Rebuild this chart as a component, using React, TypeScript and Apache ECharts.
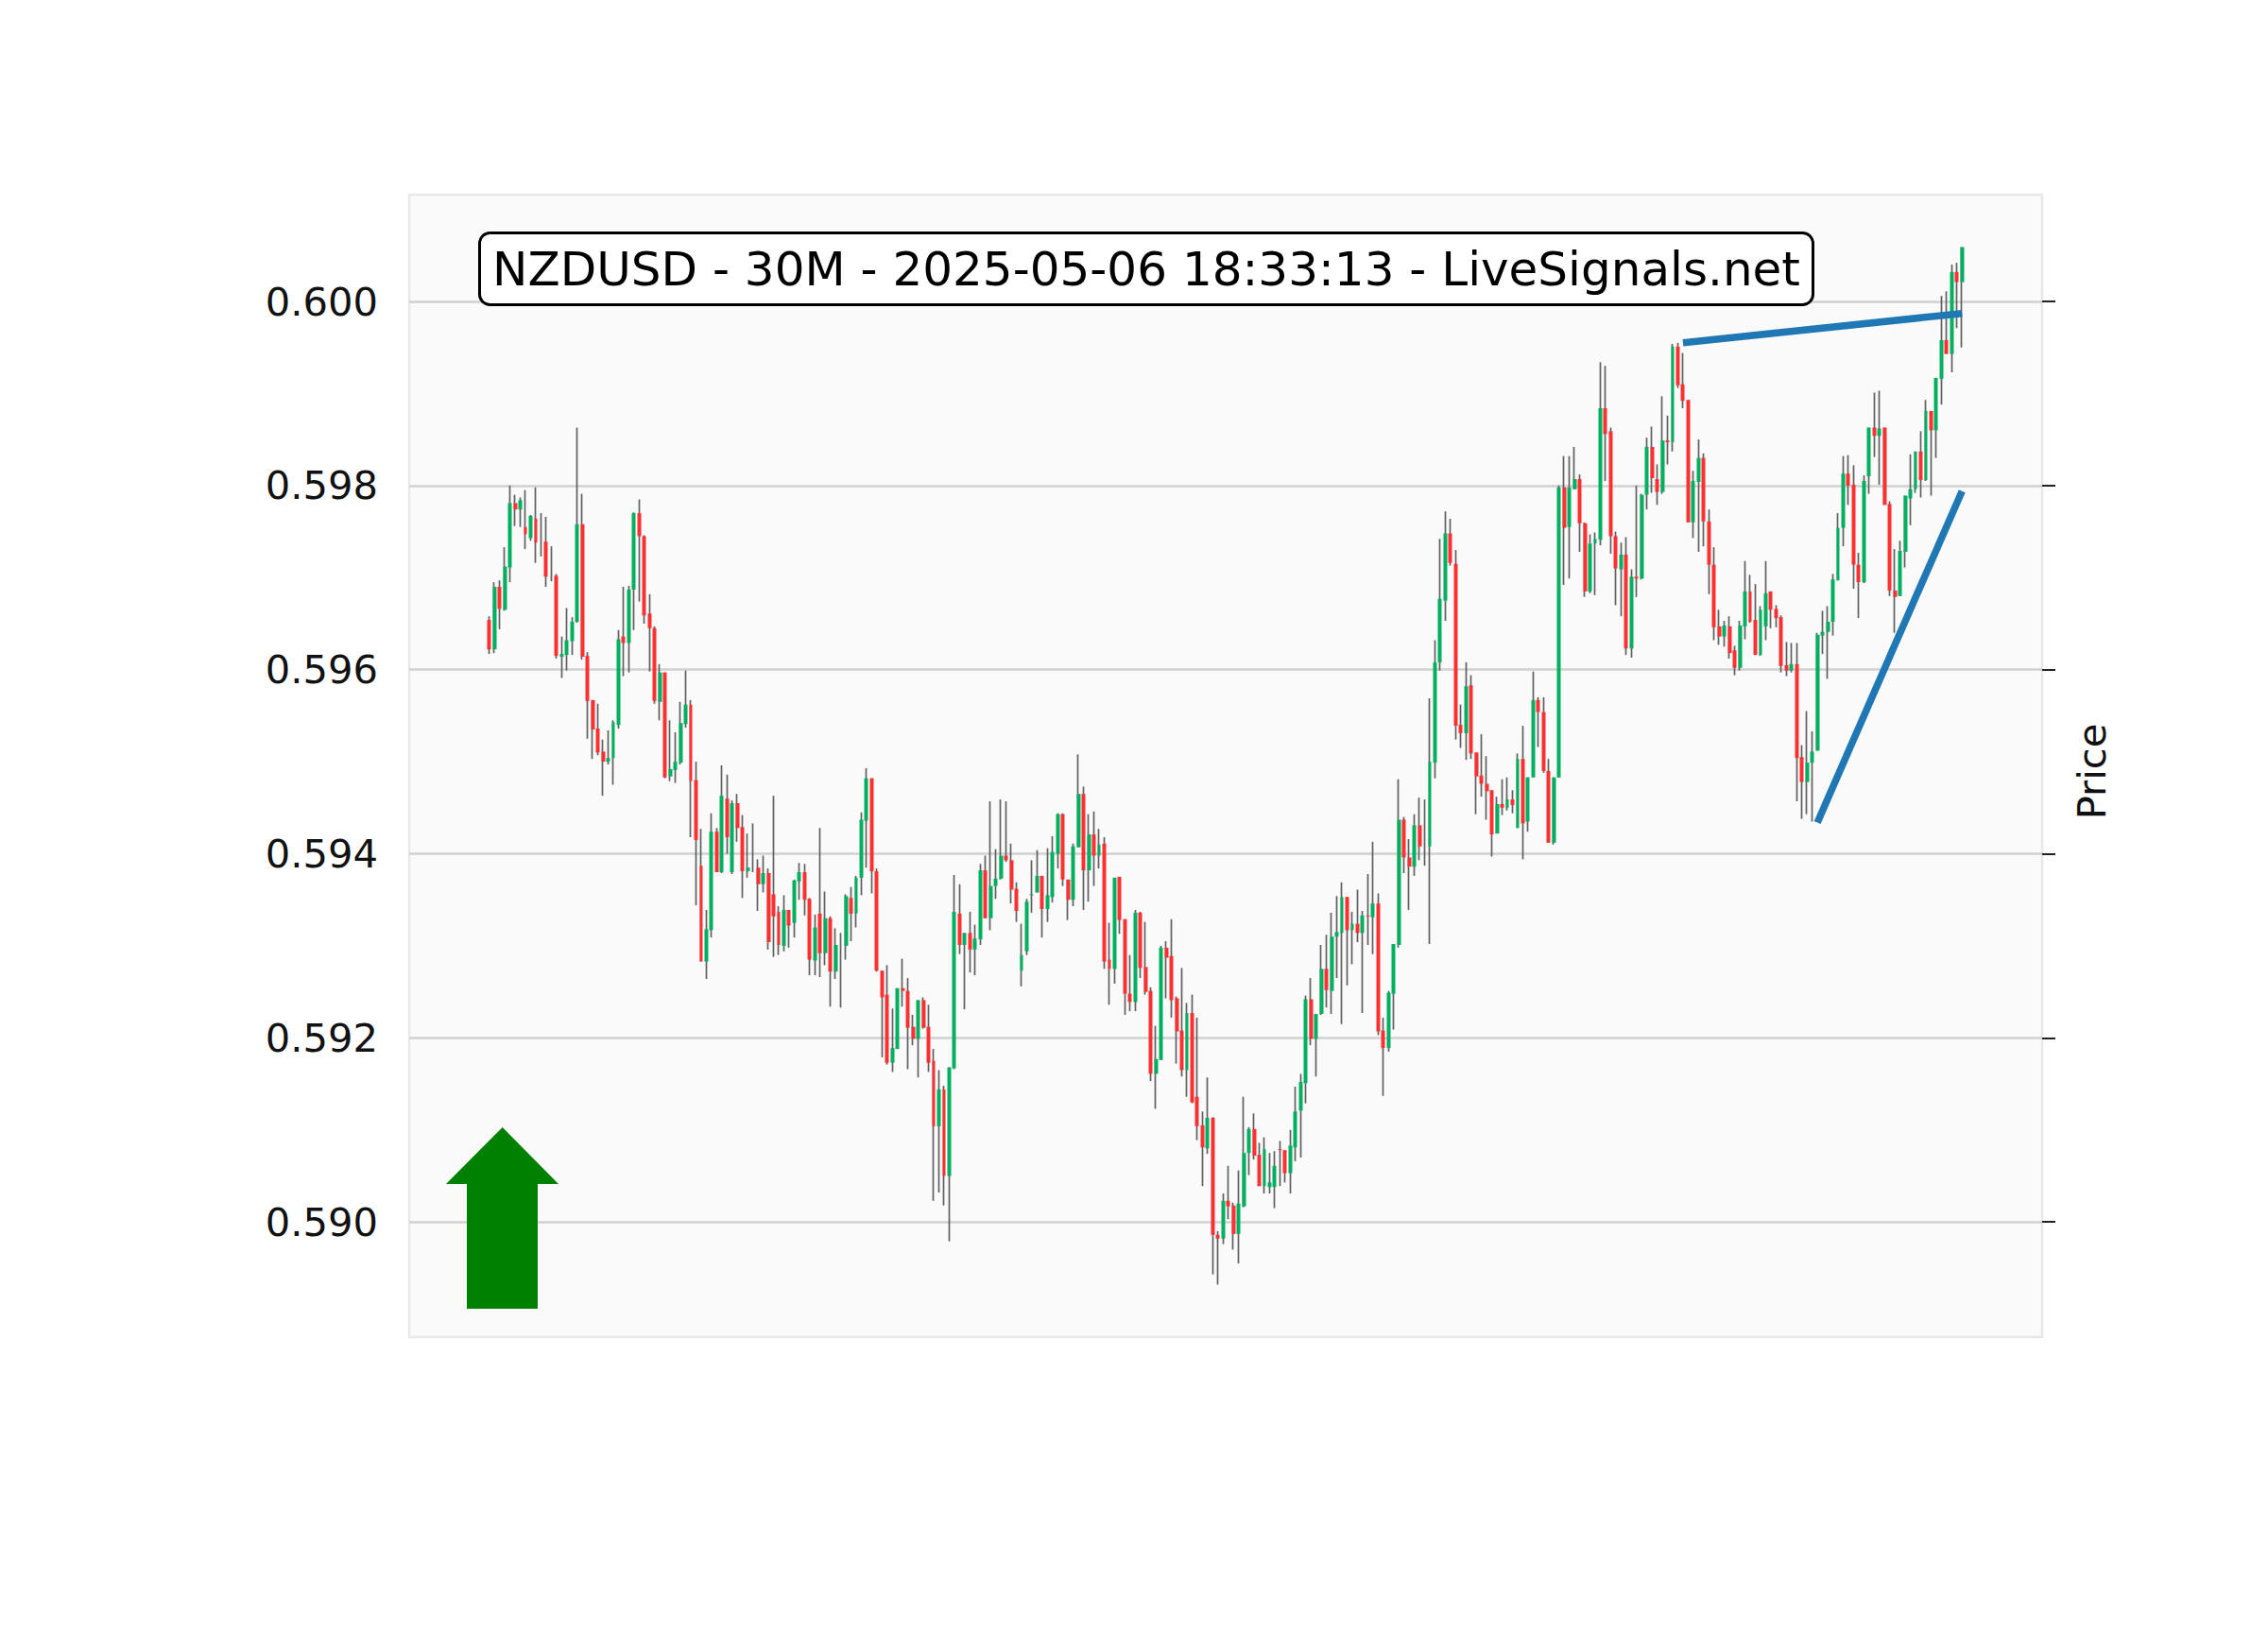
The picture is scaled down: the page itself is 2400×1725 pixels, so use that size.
import React, { useEffect, useRef } from "react";
import * as echarts from "echarts";

const chartTitle = "NZDUSD - 30M - 2025-05-06 18:33:13 - LiveSignals.net";
const yAxisName = "Price";
const yTicks = [0.59, 0.592, 0.594, 0.596, 0.598, 0.6];
const yMin = 0.58875;
const yMax = 0.60116;

const opens = [
  0.59654,0.59622,0.59690,0.59665,0.59711,0.59781,0.59774,0.59755,0.59743,0.59764,
  0.59742,0.59739,0.59703,0.59702,0.59614,0.59616,0.59631,0.59652,0.59758,0.59615,
  0.59567,0.59536,0.59511,0.59500,0.59504,0.59540,0.59636,0.59629,0.59687,0.59770,
  0.59745,0.59661,0.59645,0.59565,0.59597,0.59484,0.59491,0.59499,0.59541,0.59562,
  0.59480,0.59387,0.59283,0.59317,0.59424,0.59380,0.59460,0.59380,0.59455,0.59429,
  0.59381,0.59384,0.59385,0.59367,0.59379,0.59356,0.59337,0.59300,0.59339,0.59325,
  0.59370,0.59380,0.59351,0.59284,0.59335,0.59292,0.59330,0.59272,0.59300,0.59300,
  0.59352,0.59335,0.59374,0.59436,0.59482,0.59381,0.59273,0.59247,0.59173,0.59188,
  0.59254,0.59251,0.59212,0.59199,0.59241,0.59212,0.59175,0.59104,0.59144,0.59050,
  0.59167,0.59335,0.59301,0.59314,0.59296,0.59307,0.59382,0.59330,0.59365,0.59373,
  0.59398,0.59393,0.59362,0.59273,0.59294,0.59355,0.59358,0.59376,0.59340,0.59353,
  0.59400,0.59443,0.59372,0.59350,0.59407,0.59465,0.59382,0.59421,0.59398,0.59411,
  0.59285,0.59275,0.59375,0.59329,0.59248,0.59239,0.59336,0.59277,0.59251,0.59161,
  0.59176,0.59298,0.59289,0.59243,0.59208,0.59165,0.59227,0.59136,0.59105,0.59080,
  0.59113,0.58986,0.58982,0.59023,0.59018,0.58987,0.59017,0.59075,0.59101,0.59073,
  0.59039,0.59038,0.59038,0.59079,0.59078,0.59053,0.59081,0.59121,0.59151,0.59242,
  0.59199,0.59226,0.59275,0.59251,0.59310,0.59314,0.59353,0.59317,0.59324,0.59314,
  0.59333,0.59331,0.59346,0.59208,0.59189,0.59248,0.59301,0.59437,0.59396,0.59386,
  0.59431,0.59412,0.59408,0.59499,0.59608,0.59675,0.59748,0.59715,0.59540,0.59531,
  0.59583,0.59510,0.59485,0.59476,0.59469,0.59422,0.59454,0.59450,0.59459,0.59428,
  0.59503,0.59435,0.59483,0.59567,0.59554,0.59490,0.59412,0.59483,0.59798,0.59755,
  0.59796,0.59807,0.59759,0.59685,0.59737,0.59741,0.59884,0.59859,0.59745,0.59709,
  0.59725,0.59623,0.59701,0.59699,0.59790,0.59842,0.59807,0.59793,0.59849,0.59847,
  0.59951,0.59910,0.59893,0.59760,0.59804,0.59830,0.59761,0.59714,0.59647,0.59636,
  0.59647,0.59621,0.59602,0.59647,0.59685,0.59654,0.59616,0.59647,0.59685,0.59666,
  0.59657,0.59605,0.59599,0.59606,0.59505,0.59478,0.59499,0.59512,0.59637,0.59641,
  0.59652,0.59697,0.59754,0.59813,0.59801,0.59714,0.59695,0.59810,0.59863,0.59854,
  0.59863,0.59780,0.59686,0.59680,0.59728,0.59786,0.59796,0.59837,0.59806,0.59881,
  0.59860,0.59916,0.59958,0.59943,0.60032,0.60021,
];

const highs = [
  0.59658,0.59695,0.59697,0.59733,0.59800,0.59790,0.59787,0.59795,0.59768,0.59798,
  0.59770,0.59766,0.59734,0.59704,0.59636,0.59667,0.59657,0.59863,0.59791,0.59619,
  0.59567,0.59563,0.59524,0.59534,0.59545,0.59643,0.59690,0.59691,0.59771,0.59785,
  0.59746,0.59682,0.59647,0.59606,0.59597,0.59545,0.59532,0.59565,0.59599,0.59567,
  0.59500,0.59427,0.59339,0.59444,0.59428,0.59496,0.59486,0.59458,0.59465,0.59442,
  0.59422,0.59433,0.59394,0.59398,0.59384,0.59463,0.59343,0.59355,0.59339,0.59372,
  0.59390,0.59389,0.59352,0.59334,0.59428,0.59359,0.59332,0.59319,0.59314,0.59356,
  0.59364,0.59376,0.59445,0.59493,0.59482,0.59384,0.59273,0.59279,0.59232,0.59254,
  0.59286,0.59265,0.59225,0.59241,0.59244,0.59236,0.59188,0.59165,0.59148,0.59168,
  0.59377,0.59367,0.59314,0.59337,0.59323,0.59389,0.59398,0.59457,0.59405,0.59459,
  0.59457,0.59411,0.59369,0.59324,0.59351,0.59393,0.59404,0.59376,0.59406,0.59419,
  0.59444,0.59444,0.59372,0.59411,0.59508,0.59473,0.59443,0.59446,0.59427,0.59418,
  0.59325,0.59374,0.59375,0.59329,0.59290,0.59339,0.59337,0.59326,0.59255,0.59213,
  0.59300,0.59305,0.59329,0.59245,0.59276,0.59238,0.59247,0.59222,0.59120,0.59157,
  0.59114,0.58990,0.59031,0.59061,0.59021,0.59056,0.59136,0.59103,0.59118,0.59086,
  0.59092,0.59075,0.59077,0.59088,0.59078,0.59100,0.59147,0.59161,0.59246,0.59265,
  0.59226,0.59301,0.59312,0.59336,0.59354,0.59369,0.59353,0.59337,0.59361,0.59338,
  0.59378,0.59413,0.59357,0.59222,0.59251,0.59302,0.59481,0.59440,0.59416,0.59443,
  0.59461,0.59459,0.59569,0.59632,0.59742,0.59772,0.59764,0.59730,0.59562,0.59608,
  0.59594,0.59510,0.59530,0.59506,0.59469,0.59462,0.59481,0.59483,0.59469,0.59509,
  0.59539,0.59483,0.59598,0.59570,0.59570,0.59503,0.59483,0.59800,0.59832,0.59832,
  0.59842,0.59812,0.59760,0.59747,0.59749,0.59934,0.59930,0.59863,0.59750,0.59738,
  0.59744,0.59709,0.59800,0.59791,0.59852,0.59864,0.59823,0.59897,0.59876,0.59954,
  0.59955,0.59944,0.59893,0.59816,0.59850,0.59835,0.59774,0.59733,0.59665,0.59653,
  0.59658,0.59626,0.59653,0.59718,0.59703,0.59693,0.59669,0.59718,0.59685,0.59670,
  0.59659,0.59630,0.59629,0.59629,0.59518,0.59555,0.59533,0.59640,0.59664,0.59669,
  0.59704,0.59770,0.59832,0.59833,0.59822,0.59727,0.59811,0.59863,0.59901,0.59903,
  0.59863,0.59783,0.59731,0.59740,0.59789,0.59834,0.59837,0.59859,0.59893,0.59881,
  0.59917,0.60006,0.60011,0.60040,0.60042,0.60059,
];

const lows = [
  0.59617,0.59618,0.59644,0.59664,0.59695,0.59756,0.59755,0.59731,0.59740,0.59716,
  0.59723,0.59690,0.59696,0.59612,0.59591,0.59599,0.59616,0.59651,0.59611,0.59525,
  0.59503,0.59507,0.59463,0.59497,0.59475,0.59536,0.59593,0.59597,0.59643,0.59674,
  0.59650,0.59598,0.59563,0.59545,0.59482,0.59479,0.59477,0.59497,0.59537,0.59418,
  0.59344,0.59283,0.59264,0.59309,0.59380,0.59379,0.59400,0.59378,0.59413,0.59352,
  0.59374,0.59380,0.59338,0.59358,0.59296,0.59288,0.59290,0.59294,0.59298,0.59309,
  0.59350,0.59333,0.59268,0.59268,0.59266,0.59279,0.59234,0.59264,0.59233,0.59285,
  0.59305,0.59320,0.59355,0.59385,0.59357,0.59272,0.59179,0.59171,0.59163,0.59188,
  0.59234,0.59166,0.59192,0.59157,0.59210,0.59163,0.59023,0.59032,0.59018,0.58979,
  0.59166,0.59291,0.59231,0.59271,0.59268,0.59301,0.59330,0.59317,0.59351,0.59372,
  0.59391,0.59346,0.59326,0.59256,0.59290,0.59336,0.59358,0.59309,0.59326,0.59347,
  0.59384,0.59365,0.59328,0.59343,0.59407,0.59339,0.59348,0.59365,0.59384,0.59275,
  0.59236,0.59259,0.59313,0.59225,0.59229,0.59229,0.59265,0.59247,0.59153,0.59123,
  0.59176,0.59243,0.59222,0.59172,0.59158,0.59136,0.59129,0.59089,0.59039,0.59074,
  0.58943,0.58932,0.58976,0.59003,0.58970,0.58955,0.59016,0.59051,0.59068,0.59039,
  0.59031,0.59031,0.59015,0.59039,0.59043,0.59031,0.59066,0.59070,0.59129,0.59192,
  0.59158,0.59225,0.59233,0.59226,0.59265,0.59215,0.59257,0.59280,0.59304,0.59227,
  0.59301,0.59291,0.59203,0.59137,0.59185,0.59209,0.59298,0.59379,0.59339,0.59376,
  0.59393,0.59387,0.59302,0.59482,0.59599,0.59653,0.59713,0.59524,0.59515,0.59502,
  0.59503,0.59443,0.59462,0.59437,0.59397,0.59422,0.59442,0.59447,0.59444,0.59428,
  0.59394,0.59424,0.59483,0.59516,0.59488,0.59412,0.59410,0.59483,0.59692,0.59699,
  0.59796,0.59728,0.59679,0.59683,0.59681,0.59735,0.59805,0.59726,0.59670,0.59658,
  0.59616,0.59613,0.59679,0.59698,0.59774,0.59792,0.59779,0.59791,0.59823,0.59837,
  0.59906,0.59884,0.59760,0.59743,0.59728,0.59734,0.59682,0.59632,0.59627,0.59625,
  0.59612,0.59594,0.59599,0.59633,0.59651,0.59616,0.59615,0.59632,0.59645,0.59646,
  0.59597,0.59593,0.59597,0.59457,0.59438,0.59443,0.59435,0.59512,0.59617,0.59590,
  0.59637,0.59697,0.59734,0.59779,0.59688,0.59656,0.59694,0.59791,0.59831,0.59801,
  0.59779,0.59680,0.59640,0.59680,0.59711,0.59757,0.59792,0.59787,0.59805,0.59789,
  0.59830,0.59888,0.59943,0.59923,0.59971,0.59950,
];

const closes = [
  0.59622,0.59690,0.59666,0.59712,0.59781,0.59774,0.59784,0.59747,0.59767,0.59738,
  0.59742,0.59701,0.59703,0.59615,0.59617,0.59632,0.59652,0.59758,0.59614,0.59566,
  0.59535,0.59510,0.59500,0.59504,0.59543,0.59633,0.59629,0.59687,0.59770,0.59745,
  0.59659,0.59645,0.59566,0.59597,0.59483,0.59492,0.59500,0.59542,0.59562,0.59479,
  0.59415,0.59283,0.59318,0.59424,0.59380,0.59463,0.59418,0.59455,0.59428,0.59381,
  0.59385,0.59384,0.59367,0.59379,0.59304,0.59332,0.59301,0.59339,0.59322,0.59371,
  0.59380,0.59350,0.59285,0.59320,0.59292,0.59330,0.59272,0.59301,0.59300,0.59354,
  0.59335,0.59374,0.59437,0.59482,0.59381,0.59273,0.59244,0.59173,0.59189,0.59254,
  0.59251,0.59211,0.59199,0.59241,0.59211,0.59173,0.59104,0.59144,0.59050,0.59168,
  0.59337,0.59301,0.59314,0.59296,0.59308,0.59382,0.59330,0.59365,0.59373,0.59398,
  0.59393,0.59361,0.59338,0.59290,0.59348,0.59356,0.59376,0.59340,0.59355,0.59402,
  0.59443,0.59372,0.59350,0.59408,0.59465,0.59382,0.59421,0.59398,0.59410,0.59283,
  0.59275,0.59374,0.59328,0.59248,0.59239,0.59336,0.59276,0.59250,0.59161,0.59177,
  0.59298,0.59287,0.59241,0.59207,0.59165,0.59227,0.59130,0.59104,0.59081,0.59113,
  0.58986,0.58982,0.59023,0.59017,0.58987,0.59020,0.59075,0.59101,0.59072,0.59039,
  0.59079,0.59043,0.59061,0.59078,0.59053,0.59083,0.59120,0.59152,0.59242,0.59199,
  0.59226,0.59275,0.59252,0.59310,0.59315,0.59353,0.59317,0.59324,0.59314,0.59333,
  0.59332,0.59346,0.59207,0.59189,0.59249,0.59302,0.59437,0.59396,0.59386,0.59431,
  0.59408,0.59412,0.59500,0.59608,0.59677,0.59748,0.59716,0.59539,0.59531,0.59582,
  0.59509,0.59484,0.59476,0.59468,0.59421,0.59454,0.59450,0.59459,0.59453,0.59503,
  0.59433,0.59483,0.59567,0.59554,0.59490,0.59412,0.59483,0.59798,0.59754,0.59798,
  0.59807,0.59759,0.59685,0.59737,0.59742,0.59884,0.59856,0.59745,0.59710,0.59725,
  0.59623,0.59701,0.59699,0.59790,0.59842,0.59808,0.59793,0.59849,0.59847,0.59951,
  0.59909,0.59892,0.59760,0.59805,0.59830,0.59761,0.59714,0.59646,0.59636,0.59648,
  0.59618,0.59602,0.59648,0.59685,0.59652,0.59616,0.59665,0.59683,0.59665,0.59656,
  0.59604,0.59599,0.59606,0.59504,0.59478,0.59499,0.59511,0.59638,0.59641,0.59652,
  0.59698,0.59754,0.59813,0.59800,0.59714,0.59695,0.59805,0.59863,0.59854,0.59862,
  0.59779,0.59686,0.59679,0.59729,0.59789,0.59796,0.59837,0.59806,0.59881,0.59860,
  0.59917,0.59958,0.59943,0.60032,0.60021,0.60059,
];

// trend lines: [candle index, price]
const upperTrendLine = [[231, 0.59955], [285, 0.59987]];
const lowerTrendLine = [[257, 0.59434], [285, 0.59794]];

const PAD = 15;
const UP = "#00b060";
const DOWN = "#fe3032";
const WICK = "#606060";
const FONT = "DejaVu Sans";

export default function App() {
  const ref = useRef<HTMLDivElement>(null);
  useEffect(() => {
    if (!ref.current) return;
    const chart = echarts.init(ref.current, null, { renderer: "svg" });
    const n = opens.length;
    const total = n + PAD * 2;
    const categories: string[] = [];
    for (let i = 0; i < total; i++) categories.push(String(i - PAD));
    const wickData: any[] = [];
    const bodyData: any[] = [];
    for (let i = 0; i < total; i++) {
      const k = i - PAD;
      if (k < 0 || k >= n) {
        wickData.push("-");
        bodyData.push("-");
      } else {
        const o = opens[k], c = closes[k];
        wickData.push([o, c, lows[k], highs[k]]);
        bodyData.push([o, c, Math.min(o, c), Math.max(o, c)]);
      }
    }
    const trend = (pts: number[][]) => pts.map(([i, v]) => [i + PAD, v]);

    chart.setOption({
      animation: false,
      backgroundColor: "#ffffff",
      title: {
        text: chartTitle,
        left: 507,
        top: 246,
        padding: [10, 14, 9, 14],
        backgroundColor: "#ffffff",
        borderColor: "#000000",
        borderWidth: 3,
        borderRadius: 11,
        textStyle: {
          fontFamily: FONT,
          fontSize: 50,
          fontWeight: "normal",
          color: "#000000",
          lineHeight: 58,
        },
      },
      grid: {
        left: 433,
        top: 206,
        right: 239,
        bottom: 310,
        show: true,
        backgroundColor: "#fafafa",
        borderColor: "#e8e8e8",
        borderWidth: 2.5,
        containLabel: false,
      },
      xAxis: {
        type: "category",
        data: categories,
        boundaryGap: true,
        axisLine: { show: false },
        axisTick: { show: false },
        axisLabel: { show: false },
        splitLine: { show: false },
      },
      yAxis: [
        {
          type: "value",
          min: yMin,
          max: yMax,
          position: "left",
          axisLine: { show: false },
          axisTick: { show: false, customValues: yTicks },
          axisLabel: {
            customValues: yTicks,
            formatter: (v: number) => v.toFixed(3),
            fontFamily: FONT,
            fontSize: 41.7,
            color: "#111111",
            margin: 33,
          },
          splitLine: { show: true, lineStyle: { color: "#d0d0d0", width: 2.6 } },
        },
        {
          type: "value",
          min: yMin,
          max: yMax,
          position: "right",
          axisLine: { show: false },
          axisTick: {
            show: true,
            inside: false,
            length: 14,
            customValues: yTicks,
            lineStyle: { color: "#222222", width: 2 },
          },
          axisLabel: { show: false },
          splitLine: { show: false },
          name: yAxisName,
          nameLocation: "middle",
          nameGap: 31,
          nameRotate: 90,
          nameTextStyle: {
            fontFamily: FONT,
            fontSize: 41.7,
            color: "#111111",
            padding: [0, 12, 0, 0],
          },
        },
      ],
      series: [
        {
          type: "candlestick",
          name: "wick",
          data: wickData,
          barWidth: 1,
          itemStyle: {
            color: WICK,
            color0: WICK,
            borderColor: WICK,
            borderColor0: WICK,
            borderColorDoji: WICK,
            borderWidth: 1.7,
          },
          z: 2,
        },
        {
          type: "candlestick",
          name: "body",
          data: bodyData,
          barWidth: 4.4,
          itemStyle: {
            color: UP,
            color0: DOWN,
            borderColor: UP,
            borderColor0: DOWN,
            borderWidth: 0,
          },
          z: 3,
        },
        {
          type: "line",
          data: trend(upperTrendLine),
          symbol: "none",
          lineStyle: { color: "#1f77b4", width: 7.5, cap: "butt" },
          z: 4,
        },
        {
          type: "line",
          data: trend(lowerTrendLine),
          symbol: "none",
          lineStyle: { color: "#1f77b4", width: 7.5, cap: "butt" },
          z: 4,
        },
      ],
      graphic: [
        {
          type: "polygon",
          shape: {
            points: [
              [531.7, 1193],
              [591, 1253],
              [569, 1253],
              [569, 1385],
              [494, 1385],
              [494, 1253],
              [472, 1253],
            ],
          },
          style: { fill: "#008000" },
          z: 10,
        },
      ],
    });
    return () => chart.dispose();
  }, []);
  return (
    <div
      ref={ref}
      style={{ position: "absolute", left: 0, top: 0, width: 2400, height: 1725 }}
    />
  );
}
